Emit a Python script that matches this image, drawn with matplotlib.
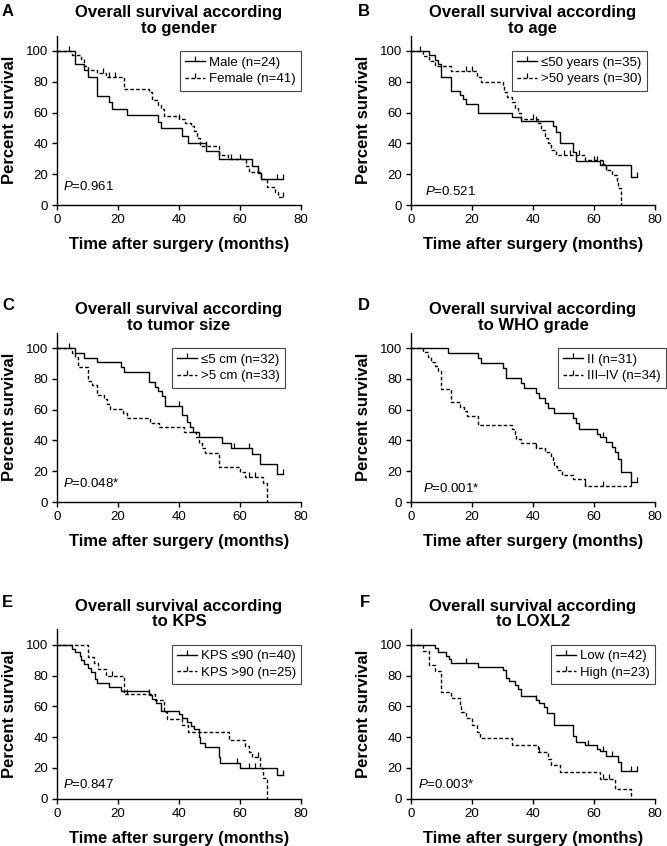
import numpy as np
import matplotlib
matplotlib.use("Agg")
import matplotlib.pyplot as plt
from matplotlib.lines import Line2D

plt.rcParams['font.family'] = ['Liberation Sans', 'DejaVu Sans']
plt.rcParams['mathtext.fontset'] = 'custom'
plt.rcParams['mathtext.it'] = 'Liberation Sans:italic'
plt.rcParams['mathtext.rm'] = 'Liberation Sans'

# ---------------- data ----------------
panel_letters = ["A", "B", "C", "D", "E", "F"]
panel_titles = ["Overall survival according\nto gender",
                "Overall survival according\nto age",
                "Overall survival according\nto tumor size",
                "Overall survival according\nto WHO grade",
                "Overall survival according\nto KPS",
                "Overall survival according\nto LOXL2"]
p_values = ["0.961", "0.521", "0.048*", "0.001*", "0.847", "0.003*"]
legend_solid = ["Male (n=24)", "\u226450 years (n=35)", "\u22645 cm (n=32)",
                "II (n=31)", "KPS \u226490 (n=40)", "Low (n=42)"]
legend_dash = ["Female (n=41)", ">50 years (n=30)", ">5 cm (n=33)",
               "III\u2013IV (n=34)", "KPS >90 (n=25)", "High (n=23)"]
x_ticks = [0, 20, 40, 60, 80]
y_ticks = [0, 20, 40, 60, 80, 100]

# Panel A
a_male_t = [0, 6, 9, 10, 13, 17, 18, 23, 33, 34, 41, 43, 49, 53, 64, 66, 67, 74]
a_male_s = [100, 91.7, 87.5, 83.3, 70.8, 66.7, 62.5, 58.3, 54.2, 50.0, 45.0, 40.0, 35.0, 30.0, 25.0, 20.8, 16.7, 16.7]
a_male_c = [72, 74]
a_fem_t = [0, 5, 8, 9, 10, 13, 16, 22, 30, 31, 33, 34, 35, 40, 42, 44, 45, 46, 47, 53, 56, 62, 63, 67, 69, 71.5, 72.5, 74]
a_fem_s = [100, 97.6, 95.1, 90.2, 87.8, 85.4, 82.9, 75.6, 73.2, 68.3, 65.0, 62.5, 58.0, 55.8, 53.5, 51.0, 48.0, 43.3, 38.0, 32.5, 30.0, 25.5, 21.6, 16.7, 12.0, 8.7, 5.4, 5.4]
a_fem_c = [4, 15, 17, 19, 40, 49, 57, 60, 66, 74]

# Panel B
b_le_t = [0, 6, 8, 9, 10, 13, 16, 17, 18, 22, 33, 36, 46.5, 47.5, 49, 53, 54, 62, 72, 74]
b_le_s = [100, 97.1, 94.3, 91.4, 82.9, 74.3, 71.4, 68.6, 65.7, 60.0, 57.1, 54.3, 51.4, 47.6, 40.0, 34.3, 28.6, 25.7, 18.4, 18.4]
b_le_c = [41, 60, 61, 63, 74]
b_gt_t = [0, 4, 6, 8, 13, 21.5, 23, 30, 30.5, 31.5, 33, 34, 35, 36, 41.5, 42.5, 44, 45, 46, 47.5, 57, 62.5, 64, 66, 67.5, 68, 69]
b_gt_s = [100, 96.7, 93.3, 90.0, 86.7, 83.3, 80.0, 76.7, 73.3, 70.0, 66.7, 62.8, 59.5, 55.8, 53.0, 48.7, 43.3, 40.0, 35.7, 32.5, 29.5, 26.5, 22.7, 19.5, 15.1, 10.8, 0]
b_gt_c = [3, 18, 20, 40, 50, 52, 55, 64]

# Panel C
c_le_t = [0, 6, 9, 13, 21, 22, 30, 32, 33, 34.5, 35.5, 41, 42.5, 43.5, 44.5, 46.5, 54, 57, 64, 66.5, 72, 74]
c_le_s = [100, 96.9, 93.8, 90.6, 87.5, 84.4, 78.1, 75.0, 71.9, 68.8, 62.5, 56.3, 52.0, 48.4, 45.3, 42.2, 38.4, 35.0, 31.0, 24.4, 18.4, 18.4]
c_le_c = [40, 58, 63, 74]
c_gt_t = [0, 5, 6, 7, 10, 11.5, 13, 15.5, 16.5, 17.5, 21.5, 23, 30.5, 33.5, 41.5, 45.5, 46.5, 47.5, 48.5, 53, 60, 61.5, 67.5, 69]
c_gt_s = [100, 97.0, 93.9, 87.9, 78.8, 75.8, 69.7, 66.7, 63.6, 60.6, 57.6, 54.5, 51.5, 48.5, 45.5, 42.2, 38.0, 35.0, 31.7, 22.7, 19.4, 16.2, 12.5, 0]
c_gt_c = [4, 63, 65]

# Panel D
d_ii_t = [0, 12, 22, 23, 30, 31, 36, 37, 41, 42, 44, 45, 47, 53, 54, 55, 61, 62, 64, 66, 67, 68, 69, 72, 74]
d_ii_s = [100, 96.8, 93.5, 90.3, 87.1, 80.6, 77.4, 74.2, 71.0, 67.7, 64.5, 61.3, 58.1, 54.8, 51.6, 47.3, 44.4, 41.9, 38.7, 35.5, 32.3, 28.0, 19.4, 12.9, 12.9]
d_ii_c = [63, 74]
d_iii_t = [0, 4, 5.5, 6.5, 8, 9, 10, 13, 16, 17.5, 18.5, 22, 33, 34, 34.5, 36, 41, 44, 46, 46.5, 47, 48, 49.5, 53, 57, 72]
d_iii_s = [100, 97.1, 94.1, 91.2, 88.2, 85.3, 73.5, 64.7, 61.8, 58.8, 55.9, 50.0, 47.1, 44.1, 41.2, 38.2, 35.3, 32.4, 29.4, 26.5, 23.5, 20.6, 17.6, 14.7, 10.3, 10.3]
d_iii_c = [41, 57, 63, 72]

# Panel E
e_le_t = [0, 5, 6, 7.5, 8, 9, 10, 11, 12.5, 13, 17, 21, 30, 31, 32.5, 34, 40, 41, 42.5, 44, 45, 46.5, 47, 48.5, 53, 53.5, 60, 72, 74]
e_le_s = [100, 97.5, 95.0, 92.5, 90.0, 87.5, 85.0, 82.5, 77.5, 75.0, 72.5, 70.0, 67.5, 65.0, 62.0, 57.0, 55.0, 52.5, 50.0, 47.5, 45.0, 40.0, 36.4, 33.6, 27.0, 23.0, 20.0, 15.5, 15.5]
e_le_c = [59, 63, 65, 74]
e_gt_t = [0, 10, 12, 13.5, 16, 22, 32, 35, 36, 41, 43, 56.5, 61.5, 63, 64, 66.5, 67.5, 69]
e_gt_s = [100, 92, 88, 84, 80, 68, 64, 56, 52, 48, 43, 38, 34, 30.5, 27, 20, 13.6, 0]
e_gt_c = [18, 23, 30, 66]

# Panel F
f_low_t = [0, 8, 9, 11.5, 12.5, 13, 22, 30, 31, 32, 34, 35, 36, 41, 42, 43.5, 44.5, 47, 53, 54, 57, 61, 62, 64, 68, 69, 74]
f_low_s = [100, 97.6, 95.2, 92.9, 90.5, 88.1, 85.7, 83.3, 78.6, 76.2, 73.8, 71.4, 66.7, 64.3, 61.9, 59.5, 55.5, 47.6, 40.5, 37.1, 34.6, 32.0, 30.9, 28.0, 24.0, 17.7, 17.7]
f_low_c = [18, 41, 58, 63, 66, 72, 74]
f_high_t = [0, 4, 6, 8, 10, 13, 16, 16.5, 18, 20, 21.5, 22.5, 33, 41.5, 45, 46, 49, 62, 67, 72]
f_high_s = [100, 95.7, 87.0, 82.6, 69.6, 65.2, 60.9, 56.5, 52.2, 47.8, 43.5, 39.1, 34.8, 30.4, 26.1, 21.7, 17.4, 13.0, 6.5, 0]
f_high_c = [42, 63, 65]

solid_series = [(a_male_t, a_male_s, a_male_c), (b_le_t, b_le_s, b_le_c), (c_le_t, c_le_s, c_le_c),
                (d_ii_t, d_ii_s, d_ii_c), (e_le_t, e_le_s, e_le_c), (f_low_t, f_low_s, f_low_c)]
dash_series = [(a_fem_t, a_fem_s, a_fem_c), (b_gt_t, b_gt_s, b_gt_c), (c_gt_t, c_gt_s, c_gt_c),
               (d_iii_t, d_iii_s, d_iii_c), (e_gt_t, e_gt_s, e_gt_c), (f_high_t, f_high_s, f_high_c)]

# ---------------- layout ----------------
W, H = 667, 846
fig = plt.figure(figsize=(W / 100, H / 100), dpi=100)

col_left = [57, 411]
row_bottom = [205, 502, 798.7]
ax_w, ax_h = 244, 169.4
legend_right = [1.0, 0.968, 0.934, 1.045, 1.0, 1.0]
p_pos = [(2.0, 11.9), (4.7, 8.6), (2.0, 11.9), (3.9, 8.6), (1.9, 9.5), (2.3, 9.5)]
letter_px = [(2, 12), (358, 12), (2, 305), (358, 305), (2, 602), (360, 602)]

dash_style = (0, (2.6, 1.6))
FS = 9.5

for i in range(6):
    r, c = divmod(i, 2)
    left = col_left[c]
    bottom = row_bottom[r]
    ax = fig.add_axes([left / W, (H - bottom) / H, ax_w / W, ax_h / H])

    for (t, s, cens), ls in ((solid_series[i], '-'), (dash_series[i], dash_style)):
        t = np.asarray(t, float)
        s = np.asarray(s, float)
        ax.step(t, s, where='post', color='black', lw=1.0, linestyle=ls, clip_on=False)
        cens = np.asarray(cens, float)
        idx = np.searchsorted(t, cens, side='right') - 1
        ax.plot(cens, s[idx], linestyle='none', marker=2, markersize=3.5,
                markeredgewidth=0.9, color='black', clip_on=False)

    ax.set_xlim(0, 80)
    ax.set_ylim(0, 110)
    ax.set_xticks(x_ticks)
    ax.set_yticks(y_ticks)
    ax.spines['top'].set_visible(False)
    ax.spines['right'].set_visible(False)
    for sp in ('left', 'bottom'):
        ax.spines[sp].set_linewidth(1.0)
    ax.tick_params(direction='out', length=3.5, width=1.0, pad=3, labelsize=FS)

    ax.set_title(panel_titles[i], fontsize=12, fontweight='bold', pad=0, linespacing=1.05)
    ax.set_xlabel("Time after surgery (months)", fontsize=12, fontweight='bold')
    ax.set_ylabel("Percent survival", fontsize=12, fontweight='bold')
    ax.xaxis.set_label_coords(0.5, -0.19)
    ax.yaxis.set_label_coords(-0.165, 0.5)

    px, py = p_pos[i]
    ax.text(px, py, r"$\it{P}$=" + p_values[i], fontsize=FS, va='center', ha='left')

    handles = [Line2D([], [], color='black', lw=1.0, linestyle='-', marker=2,
                      markersize=3.5, markeredgewidth=0.9),
               Line2D([], [], color='black', lw=1.0, linestyle=dash_style, marker=2,
                      markersize=3.5, markeredgewidth=0.9)]
    leg = ax.legend(handles, [legend_solid[i], legend_dash[i]], loc='upper right',
                    bbox_to_anchor=(legend_right[i], 100 / 110), borderaxespad=0,
                    fontsize=FS, frameon=True, fancybox=False, framealpha=1,
                    edgecolor='#444444', handlelength=1.5, handletextpad=0.3,
                    labelspacing=0.35, borderpad=0.4, numpoints=1)
    leg.get_frame().set_linewidth(0.8)

    lx, ly = letter_px[i]
    fig.text(lx / W, 1 - ly / H, panel_letters[i], fontsize=12, fontweight='bold',
             ha='left', va='center')

fig.savefig("out.png", dpi=100)
